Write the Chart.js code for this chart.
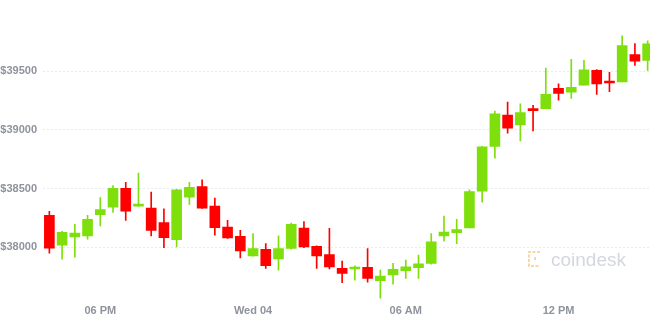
<!DOCTYPE html>
<html>
<head>
<meta charset="utf-8">
<title>BTC 30m candles</title>
<script src="https://cdn.jsdelivr.net/npm/chart.js@4.4.1/dist/chart.umd.min.js"></script>
<style>
    html, body { margin: 0; padding: 0; background: #fff; overflow: hidden; }
    #wrap { position: absolute; left: 0; top: 0; width: 654px; height: 326px; }
</style>
</head>
<body>
<div id="wrap"><canvas id="candles"></canvas></div>
<script>
// 30 minute candles, Tue 16:00 -> Wed 15:30
const times = [
    '16:00','16:30','17:00','17:30','18:00','18:30','19:00','19:30','20:00','20:30','21:00','21:30',
    '22:00','22:30','23:00','23:30','00:00','00:30','01:00','01:30','02:00','02:30','03:00','03:30',
    '04:00','04:30','05:00','05:30','06:00','06:30','07:00','07:30','08:00','08:30','09:00','09:30',
    '10:00','10:30','11:00','11:30','12:00','12:30','13:00','13:30','14:00','14:30','15:00','15:30'
];
const opens = [
    38271, 38017, 38087, 38096, 38277, 38342, 38503, 38350, 38333, 38209, 38065, 38426,
    38517, 38350, 38172, 38093, 37926, 37981, 37901, 37989, 38164, 38008, 37938, 37819,
    37814, 37828, 37714, 37763, 37799, 37825, 37862, 38096, 38125, 38164, 38477, 38859,
    39127, 39042, 39169, 39181, 39354, 39322, 39381, 39508, 39405, 39410, 39642, 39593
];
const highs = [
    38305, 38136, 38195, 38271, 38424, 38525, 38553, 38633, 38469, 38328, 38494, 38553,
    38574, 38418, 38229, 38144, 38116, 38031, 38096, 38206, 38218, 38011, 38161, 37881,
    37842, 37989, 37805, 37862, 37890, 37932, 38116, 38265, 38237, 38490, 38859, 39161,
    39237, 39223, 39209, 39528, 39393, 39602, 39593, 39515, 39491, 39802, 39735, 39760
];
const lows = [
    37950, 37898, 37915, 38068, 38181, 38297, 38229, 38350, 38096, 37997, 38003, 38364,
    38331, 38102, 38076, 37909, 37924, 37819, 37805, 37983, 37997, 37819, 37814, 37697,
    37720, 37701, 37565, 37684, 37735, 37735, 37856, 38053, 38031, 38164, 38384, 38760,
    38972, 38907, 38992, 39181, 39254, 39268, 39381, 39303, 39325, 39410, 39549, 39508
];
const closes = [
    37992, 38127, 38121, 38237, 38320, 38503, 38308, 38356, 38144, 38082, 38489, 38511,
    38333, 38167, 38079, 37969, 37989, 37842, 37989, 38195, 38003, 37926, 37833, 37777,
    37822, 37735, 37754, 37811, 37833, 37858, 38045, 38130, 38150, 38475, 38856, 39138,
    39014, 39147, 39165, 39303, 39311, 39364, 39513, 39393, 39400, 39718, 39585, 39734
];

// axis labels
const yTicks = [38000, 38500, 39000, 39500];
const xTickIndex = [4, 16, 28, 40];
const xTickText = ['06 PM', 'Wed 04', '06 AM', '12 PM'];

const UP = '#7fdf0c';
const DOWN = '#ff0000';
const LABEL_FONT = { family: "'Liberation Sans', Arial, sans-serif", size: 11, weight: 'bold' };

const candleColors = opens.map((o, i) => closes[i] >= o ? UP : DOWN);
const wickData = lows.map((l, i) => [l, highs[i]]);
const bodyData = opens.map((o, i) => [o, closes[i]]);

// light coindesk mark in the lower right corner
const watermark = {
    id: 'watermark',
    beforeDatasetsDraw(chart) {
        const ctx = chart.ctx;
        ctx.save();
        ctx.strokeStyle = '#f9d7a4';
        ctx.lineWidth = 2;
        ctx.setLineDash([3, 1.5]);
        ctx.beginPath();
        ctx.moveTo(540, 252);
        ctx.lineTo(529, 252);
        ctx.lineTo(529, 266);
        ctx.lineTo(540, 266);
        ctx.moveTo(535, 257);
        ctx.lineTo(535, 261);
        ctx.stroke();
        ctx.setLineDash([]);
        ctx.fillStyle = '#d4d7de';
        ctx.font = "19px 'Liberation Sans', Arial, sans-serif";
        ctx.textBaseline = 'alphabetic';
        ctx.fillText('coindesk', 551, 266);
        ctx.restore();
    }
};

new Chart(document.getElementById('candles').getContext('2d'), {
    type: 'bar',
    data: {
        labels: times,
        datasets: [
            {
                label: 'wick',
                data: wickData,
                backgroundColor: candleColors,
                barThickness: 1,
                grouped: false,
                order: 2
            },
            {
                label: 'body',
                data: bodyData,
                backgroundColor: candleColors,
                barThickness: 10,
                minBarLength: 2,
                grouped: false,
                order: 1
            }
        ]
    },
    options: {
        responsive: true,
        maintainAspectRatio: false,
        animation: false,
        layout: { padding: { top: 11, right: 0, left: 0, bottom: 0 } },
        plugins: {
            legend: { display: false },
            tooltip: { enabled: false }
        },
        scales: {
            x: {
                offset: true,
                grid: { display: false, drawTicks: false },
                border: { display: false },
                ticks: {
                    autoSkip: false,
                    maxRotation: 0,
                    padding: 4,
                    color: '#8e939c',
                    font: LABEL_FONT,
                    callback: (v, i) => {
                        const k = xTickIndex.indexOf(i);
                        return k >= 0 ? xTickText[k] : '';
                    }
                },
                afterFit: (scale) => { scale.height = 26; }
            },
            y: {
                min: 37550,
                max: 40000,
                afterBuildTicks: (scale) => {
                    scale.ticks = yTicks.map(v => ({ value: v }));
                },
                grid: {
                    color: '#e6eaf2',
                    lineWidth: 1,
                    drawTicks: false
                },
                border: { display: false, dash: [2, 2] },
                ticks: {
                    padding: 6,
                    color: '#8e939c',
                    font: LABEL_FONT,
                    callback: (v) => '$' + v
                },
                afterFit: (scale) => { scale.width = 43; }
            }
        }
    },
    plugins: [watermark]
});
</script>
</body>
</html>
